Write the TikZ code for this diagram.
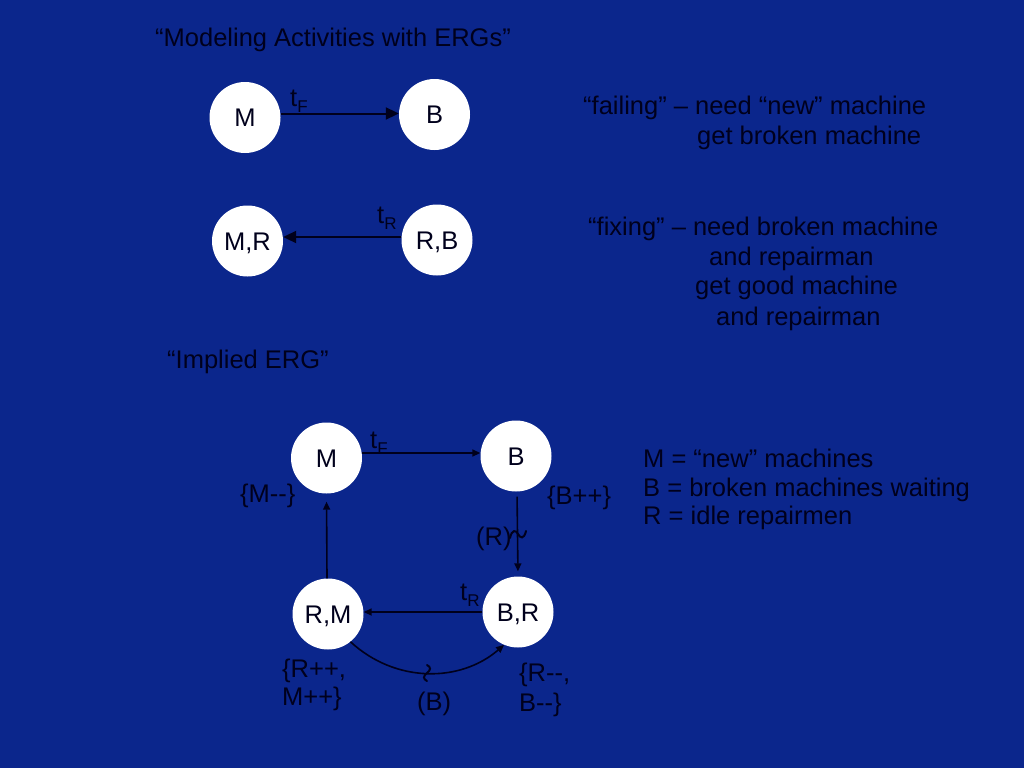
\documentclass[tikz,border=0pt]{standalone}
\usepackage{fontspec}
\setmainfont{Liberation Sans}
\usetikzlibrary{arrows.meta}
\definecolor{bg}{RGB}{11,38,140}
\definecolor{txt}{RGB}{0,0,28}
\newcommand\mysub[1]{\raisebox{-6pt}{\fontsize{17}{17}\selectfont #1}}
\begin{document}
\begin{tikzpicture}[x=1pt,y=-1pt,
  state/.style={circle,fill=white,draw=none,minimum size=71pt,inner sep=0pt,
    text=txt,font=\fontsize{25.5}{30}\selectfont,text height=18pt,text depth=0pt},
  lbl/.style={anchor=base west,inner sep=0pt,text=txt,font=\fontsize{25.5}{30}\selectfont},
  bigarr/.style={draw=txt,line width=2pt,-{Triangle[length=13pt,width=12pt]}},
  smallarr/.style={draw=txt,line width=1.6pt,-{Triangle[length=8pt,width=7pt]}},
  tildemark/.style={draw=txt,line width=2pt,line cap=round}]
\fill[bg] (0,0) rectangle (1024,768);
\useasboundingbox (0,0) rectangle (1024,768);

% titles
\node[lbl] (title) at (155,47) {“Modeling Activities with ERGs”};
\node[lbl] (implied) at (167,368) {“Implied ERG”};

% top graphs
\node[state] (M) at (245,117.5) {M};
\node[state] (B) at (434.5,114.5) {B};
\node[state] (MR) at (247.5,241) {M,R};
\node[state] (RB) at (437,240) {R,B};
\draw[bigarr] ([yshift=4pt]M.east) -- ([yshift=1pt]B.west);
\draw[bigarr] ([yshift=3pt]RB.west) -- ([yshift=4pt]MR.east);
\node[lbl] (tF1) at (290,106) {t\mysub{F}};
\node[lbl] (tR1) at (377,223) {t\mysub{R}};

% right descriptions
\node[lbl] (f1) at (583,114) {“failing” – need “new” machine};
\node[lbl] (f2) at (697,144) {get broken machine};
\node[lbl] (x1) at (588,235) {“fixing” – need broken machine};
\node[lbl] (x2) at (709,265) {and repairman};
\node[lbl] (x3) at (695,294) {get good machine};
\node[lbl] (x4) at (716,325) {and repairman};

% implied ERG
\node[state] (M2) at (326.5,458) {M};
\node[state] (B2) at (516,456) {B};
\node[state] (RM) at (328,614) {R,M};
\node[state] (BR) at (518,612) {B,R};
\draw[smallarr] ([yshift=5pt]M2.east) -- ([yshift=3pt]B2.west);
\draw[smallarr,shorten <=5pt,shorten >=5pt] ([xshift=1pt]B2.south) -- (BR.north);
\draw[smallarr] (BR.west) -- ([yshift=2pt]RM.east);
\draw[smallarr,shorten >=8pt] ([xshift=-1pt]RM.north) -- (M2.south);
\draw[smallarr] (RM.-51) .. controls (395,683) and (460,683) .. (BR.-113);
\node[lbl] (tF2) at (370,448) {t\mysub{F}};
\node[lbl] (tR2) at (460,600) {t\mysub{R}};
% tilde marks on the conditional edges
\draw[tildemark] (510,538) .. controls (512,529) and (516,530) .. (518,534)
  .. controls (520,538) and (524,540) .. (526,531);
\draw[tildemark] (427,665) .. controls (431,667) and (431,670) .. (427,673)
  .. controls (423,676) and (423,679) .. (427,681);
\node[lbl] (Rc) at (476,545) {(R)};
\node[lbl] (Bc) at (417,710) {(B)};
\node[lbl] (mm) at (240,502) {\{M-{}-\}};
\node[lbl] (bp) at (547,504) {\{B++\}};
\node[lbl] (rp) at (282,677) {\{R++,};
\node[lbl] (mp) at (282,705) {M++\}};
\node[lbl] (rm) at (519,681) {\{R-{}-,};
\node[lbl] (bm) at (519,711) {B-{}-\}};

% legend
\node[lbl] (l1) at (643,467) {M = “new” machines};
\node[lbl] (l2) at (643,496) {B = broken machines waiting};
\node[lbl] (l3) at (643,524) {R = idle repairmen};
\end{tikzpicture}
\end{document}
